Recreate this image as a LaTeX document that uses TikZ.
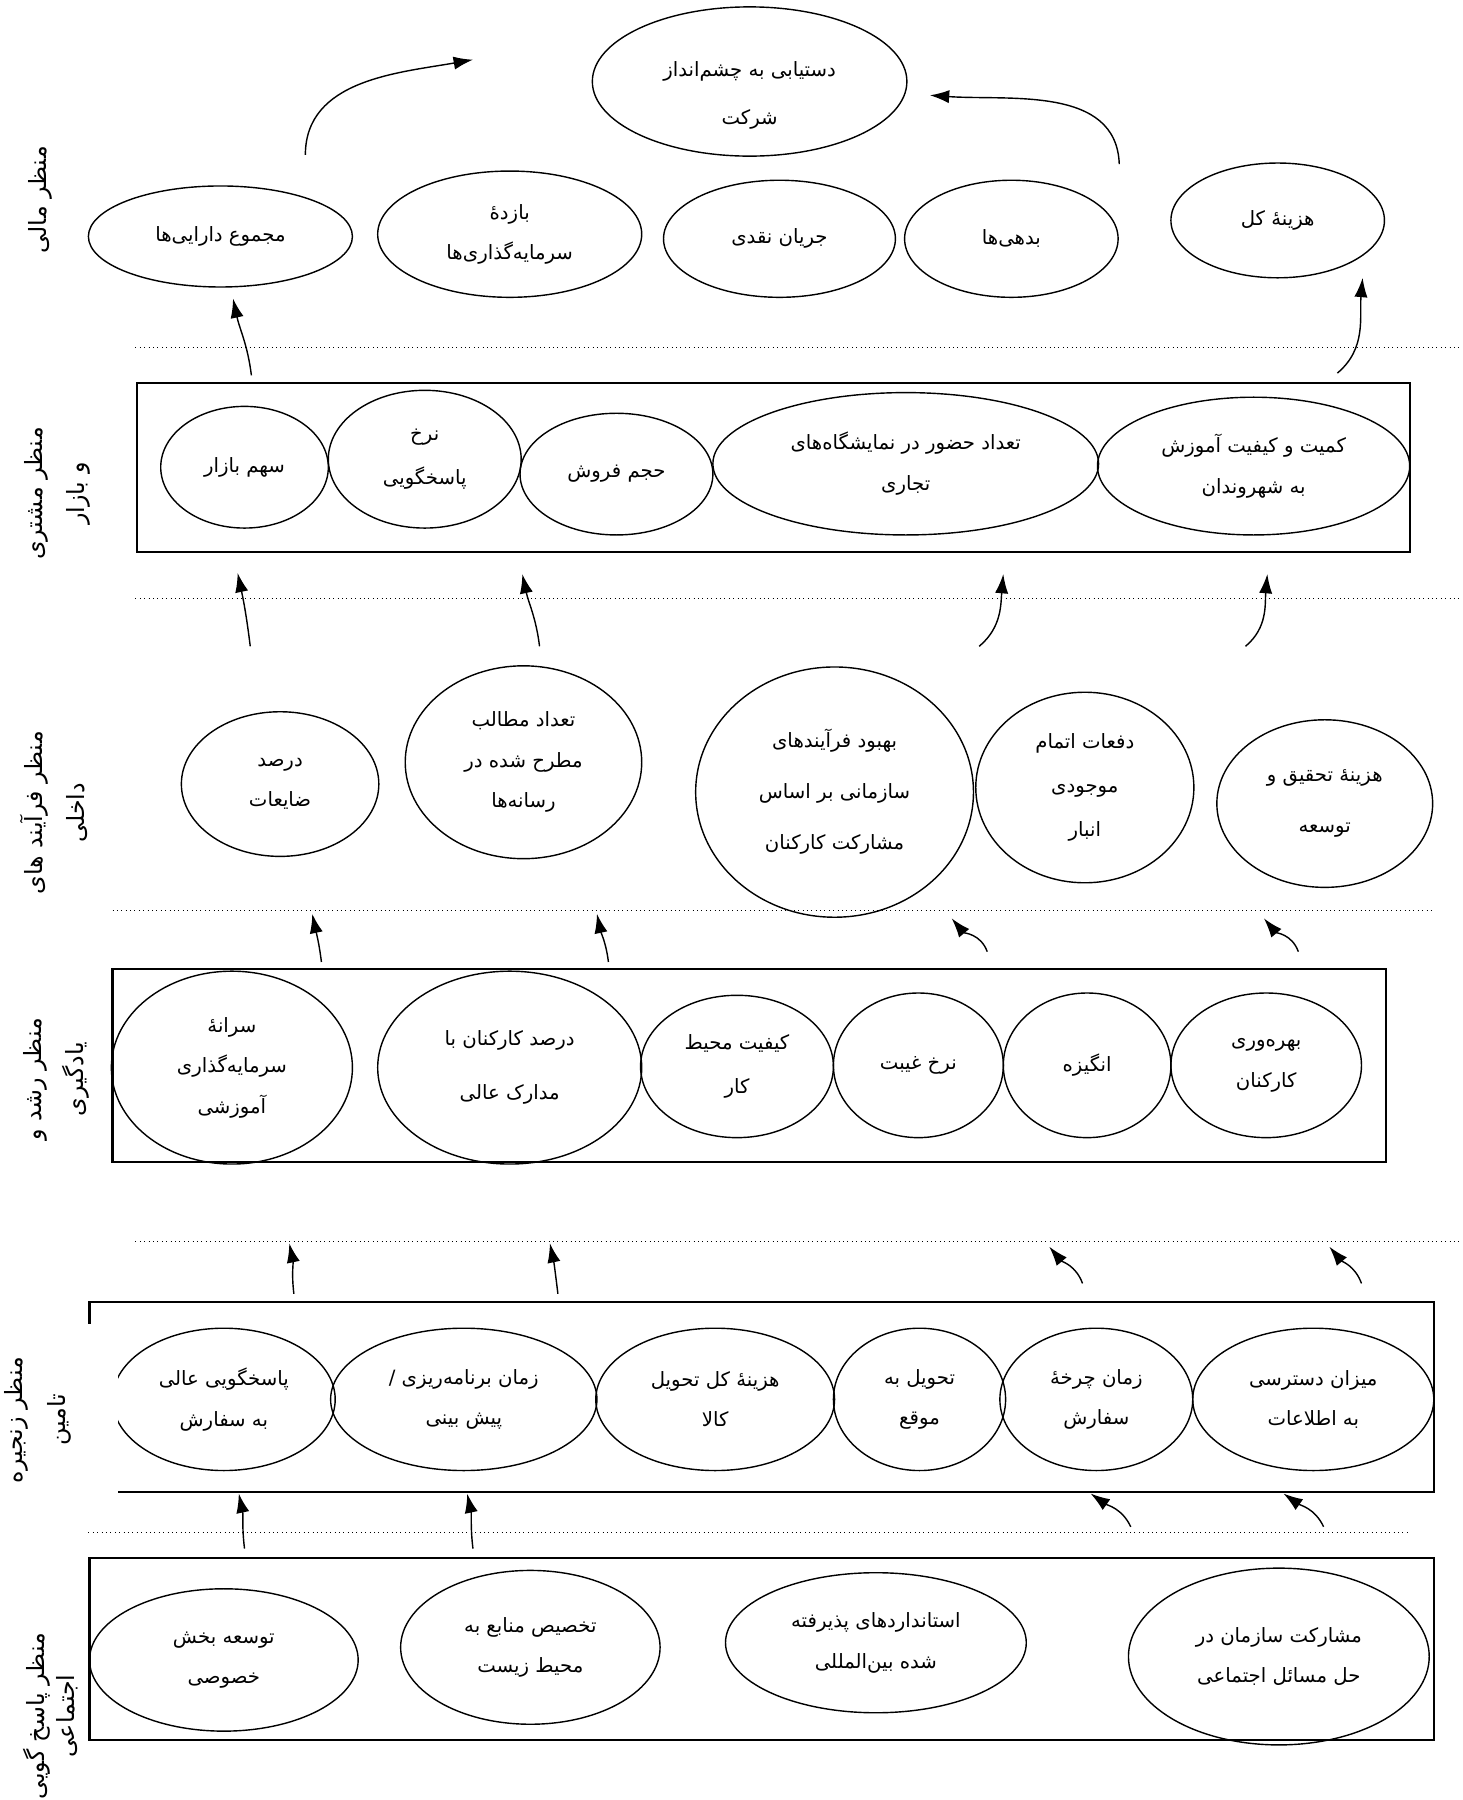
\documentclass[tikz,border=0pt]{standalone}
\usepackage{fontspec}
\usepackage{tikz}
\usetikzlibrary{shapes.geometric, arrows.meta}
\newfontfamily\farsifont[Script=Arabic]{DejaVu Sans}
\TeXXeTstate=1
\newcommand{\fatx}[1]{\beginR #1\endR}

\begin{document}
\begin{tikzpicture}[x=0.653pt, y=-0.653pt,
  kpi/.style={ellipse, draw, line width=0.8pt, inner sep=0pt, outer sep=0pt, align=center,
    font=\farsifont\fontsize{11.2}{23}\selectfont},
  sz/.style 2 args={minimum width=#1*1.306pt, minimum height=#2*1.306pt},
  persp/.style={rotate=90, align=center, inner sep=0pt, font=\farsifont\fontsize{13.5}{24}\selectfont},
  frame/.style={draw, line width=1.2pt},
  sep/.style={dotted, line width=0.5pt},
  link/.style={-{Latex[length=11pt,width=7.5pt]}, line width=0.8pt}]
\useasboundingbox (0,0) rectangle (1274,1568);

\node (vision) [kpi, sz={137}{65}] at (653,71) {};
\node (visiontxt) [align=center, font=\farsifont\fontsize{11.2}{23}\selectfont] at (653,83) {\fatx{دستیابی به چشم^^^^200cانداز}\\[4pt]\fatx{شرکت}};

\node (fin1) [kpi, sz={115}{44}] at (192,206) {\fatx{مجموع دارایی^^^^200cها}};
\node (fin2) [kpi, sz={115}{55}] at (444,204) {\fatx{بازده^^^^0654}\\\fatx{سرمایه^^^^200cگذاری^^^^200cها}};
\node (fin3) [kpi, sz={101}{51}] at (679,208) {\fatx{جریان نقدی}};
\node (fin4) [kpi, sz={93}{51}] at (881,208) {\fatx{بدهی^^^^200cها}};
\node (fin5) [kpi, sz={93}{50}] at (1113,192) {\fatx{هزینه^^^^0654 کل}};

\node (cus1) [kpi, sz={73}{53}] at (213,407) {\fatx{سهم بازار}};
\node (cus2) [kpi, sz={84}{60}] at (370,400) {\fatx{نرخ}\\[2pt]\fatx{پاسخگویی}};
\node (cus3) [kpi, sz={84}{53}] at (537,413) {\fatx{حجم فروش}};
\node (cus4) [kpi, sz={168}{62}] at (789,404) {\fatx{تعداد حضور در نمایشگاه^^^^200cهای}\\\fatx{تجاری}};
\node (cus5) [kpi, sz={136}{60}] at (1092,406) {\fatx{کمیت و کیفیت آموزش}\\\fatx{به شهروندان}};

\node (int1) [kpi, sz={86}{63}] at (244,683) {\fatx{درصد}\\\fatx{ضایعات}};
\node (int2) [kpi, sz={103}{84}] at (456,664) {\fatx{تعداد مطالب}\\\fatx{مطرح شده در}\\\fatx{رسانه^^^^200cها}};
\node (int3) [kpi, sz={121}{109}] at (727,690) {\fatx{بهبود فرآیندهای}\\[6pt]\fatx{سازمانی بر اساس}\\[6pt]\fatx{مشارکت کارکنان}};
\node (int4) [kpi, sz={95}{83}] at (945,686) {\fatx{دفعات اتمام}\\[2pt]\fatx{موجودی}\\[2pt]\fatx{انبار}};
\node (int5) [kpi, sz={94}{73}] at (1154,700) {\fatx{هزینه^^^^0654 تحقیق و}\\[6pt]\fatx{توسعه}};

\draw[frame] (119,334) rectangle (1228,481);
\draw[frame] (98,844) rectangle (1207,1012);
\draw[frame] (78,1153) |- (1249,1134) |- (103,1300);
\draw[frame] (78,1357) rectangle (1249,1516);

\node (lrn1) [kpi, sz={105}{84}] at (202,930) {\fatx{سرانه^^^^0654}\\\fatx{سرمایه^^^^200cگذاری}\\\fatx{آموزشی}};
\node (lrn2) [kpi, sz={115}{84}] at (444,930) {\fatx{درصد کارکنان با}\\[8pt]\fatx{مدارک عالی}};
\node (lrn3) [kpi, sz={84}{62}] at (642,929) {\fatx{کیفیت محیط}\\[2pt]\fatx{کار}};
\node (lrn4) [kpi, sz={74}{63}] at (800,928) {\fatx{نرخ غیبت}};
\node (lrn5) [kpi, sz={73}{63}] at (947,928) {\fatx{انگیزه}};
\node (lrn6) [kpi, sz={83}{63}] at (1103,928) {\fatx{بهره^^^^200cوری}\\\fatx{کارکنان}};

\begin{scope}
\clip (103,1140) rectangle (300,1295);
\node (sup1) [kpi, sz={97}{62}] at (195,1219) {\fatx{پاسخگویی عالی}\\\fatx{به سفارش}};
\end{scope}
\node (sup2) [kpi, sz={116}{62}] at (404,1219) {\fatx{زمان برنامه^^^^200cریزی /}\\\fatx{پیش بینی}};
\node (sup3) [kpi, sz={104}{62}] at (623,1219) {\fatx{هزینه^^^^0654 کل تحویل}\\\fatx{کالا}};
\node (sup4) [kpi, sz={75}{62}] at (801,1219) {\fatx{تحویل به}\\\fatx{موقع}};
\node (sup5) [kpi, sz={84}{62}] at (955,1219) {\fatx{زمان چرخه^^^^0654}\\\fatx{سفارش}};
\node (sup6) [kpi, sz={105}{62}] at (1144,1219) {\fatx{میزان دسترسی}\\\fatx{به اطلاعات}};

\node (soc1) [kpi, sz={117}{62}] at (195,1446) {\fatx{توسعه بخش}\\\fatx{خصوصی}};
\node (soc2) [kpi, sz={113}{67}] at (462,1435) {\fatx{تخصیص منابع به}\\\fatx{محیط زیست}};
\node (soc3) [kpi, sz={131}{61}] at (763,1431) {\fatx{استانداردهای پذیرفته}\\\fatx{شده بین^^^^200cالمللی}};
\node (soc4) [kpi, sz={131}{77}] at (1114,1443) {\fatx{مشارکت سازمان در}\\\fatx{حل مسائل اجتماعی}};

\node (lblfin) [persp] at (35,174) {\fatx{منظر مالی}};
\node (lblcus) [persp] at (50,430) {\fatx{منظر مشتری}\\\fatx{و بازار}};
\node (lblint) [persp] at (47,708) {\fatx{منظر فرآیند های}\\\fatx{داخلی}};
\node (lbllrn) [persp] at (49,940) {\fatx{منظر رشد و}\\\fatx{یادگیری}};
\node (lblsup) [persp] at (33,1237) {\fatx{منظر زنجیره}\\\fatx{تامین}};
\node (lblsoc) [persp] at (44,1495) {\fatx{منظر پاسخ گویی}\\[-7pt]\fatx{اجتماعی}};

\draw[sep] (118,303) -- (1274,303);
\draw[sep] (118,521) -- (1274,521);
\draw[sep] (98,793) -- (1248,793);
\draw[sep] (118,1081) -- (1274,1081);
\draw[sep] (77,1335) -- (1227,1335);

\coordinate (a1s) at (266,135); \coordinate (a1e) at (412,52);
\coordinate (a2s) at (975,143); \coordinate (a2e) at (810,83);
\draw[link] (a1s) to[out=90,in=190] (a1e);
\draw[link] (a2s) to[out=92,in=-4] (a2e);

\coordinate (b1s) at (219,327); \coordinate (b1e) at (203,260);
\coordinate (b2s) at (1165,325); \coordinate (b2e) at (1187,242);
\draw[link] (b1s) to[out=97,in=-78] (b1e);
\draw[link] (b2s) to[out=40,in=-95] (b2e);

\coordinate (c1s) at (218,563); \coordinate (c1e) at (207,499);
\coordinate (c2s) at (470,563); \coordinate (c2e) at (455,500);
\coordinate (c3s) at (853,563); \coordinate (c3e) at (874,500);
\coordinate (c4s) at (1085,563); \coordinate (c4e) at (1104,500);
\draw[link] (c1s) to[out=97,in=-78] (c1e);
\draw[link] (c2s) to[out=97,in=-78] (c2e);
\draw[link] (c3s) to[out=40,in=-95] (c3e);
\draw[link] (c4s) to[out=40,in=-95] (c4e);

\coordinate (d1s) at (280,838); \coordinate (d1e) at (272,796);
\coordinate (d2s) at (530,838); \coordinate (d2e) at (520,796);
\coordinate (d3s) at (860,829); \coordinate (d3e) at (829,800);
\coordinate (d4s) at (1131,829); \coordinate (d4e) at (1101,800);
\draw[link] (d1s) to[out=97,in=-78] (d1e);
\draw[link] (d2s) to[out=97,in=-78] (d2e);
\draw[link] (d3s) to[out=110,in=-50] (d3e);
\draw[link] (d4s) to[out=110,in=-50] (d4e);

\coordinate (e1s) at (256,1127); \coordinate (e1e) at (252,1083);
\coordinate (e2s) at (486,1127); \coordinate (e2e) at (479,1083);
\coordinate (e3s) at (943,1118); \coordinate (e3e) at (914,1086);
\coordinate (e4s) at (1186,1118); \coordinate (e4e) at (1158,1086);
\draw[link] (e1s) to[out=97,in=-78] (e1e);
\draw[link] (e2s) to[out=97,in=-78] (e2e);
\draw[link] (e3s) to[out=110,in=-50] (e3e);
\draw[link] (e4s) to[out=110,in=-50] (e4e);

\coordinate (f1s) at (213,1349); \coordinate (f1e) at (208,1301);
\coordinate (f2s) at (412,1349); \coordinate (f2e) at (407,1301);
\coordinate (f3s) at (985,1330); \coordinate (f3e) at (950,1301);
\coordinate (f4s) at (1153,1330); \coordinate (f4e) at (1118,1301);
\draw[link] (f1s) to[out=97,in=-78] (f1e);
\draw[link] (f2s) to[out=97,in=-78] (f2e);
\draw[link] (f3s) to[out=115,in=-35] (f3e);
\draw[link] (f4s) to[out=115,in=-35] (f4e);
\end{tikzpicture}
\end{document}
